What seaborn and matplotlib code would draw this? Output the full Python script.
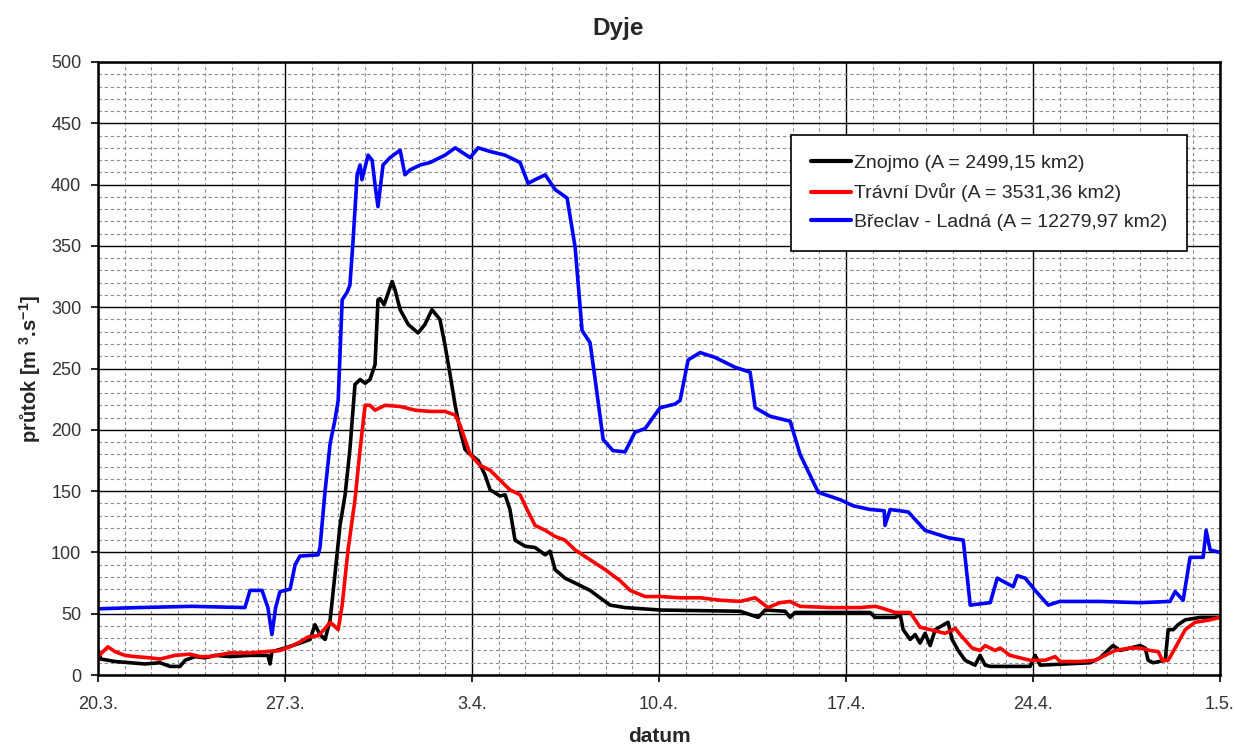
import numpy as np
import pandas as pd
import matplotlib
matplotlib.use("Agg")
import matplotlib.pyplot as plt
from matplotlib.ticker import MultipleLocator
import seaborn as sns

# ---- data (days since 20.3., discharge m3/s) ----
breclav_day = [0, 1.5, 3.5, 5.5, 5.69, 6.14, 6.36, 6.51, 6.65, 6.81, 7.19, 7.38, 7.56, 8.24, 8.31, 8.50,
               8.69, 8.87, 8.99, 9.14, 9.32, 9.43, 9.55, 9.70, 9.81, 9.88, 10.11, 10.26, 10.37, 10.48,
               10.67, 10.93, 11.31, 11.49, 11.68, 12.06, 12.43, 12.99, 13.37, 13.93, 14.23, 14.68,
               15.24, 15.80, 16.10, 16.36, 16.74, 17.11, 17.56, 17.86, 18.12, 18.42, 18.61, 18.91,
               19.28, 19.73, 20.10, 20.48, 21.04, 21.60, 21.79, 22.09, 22.54, 23.10, 23.85, 24.41,
               24.60, 25.16, 25.91, 26.28, 26.96, 27.78, 28.27, 28.90, 29.43, 29.46, 29.65, 30.33,
               30.96, 31.82, 32.39, 32.65, 33.40, 33.66, 34.26, 34.41, 34.71, 35.08, 35.57, 36.0,
               37.5, 39.0, 40.13, 40.32, 40.62, 40.88, 41.37, 41.48, 41.63, 42.0]
breclav_q = [54, 55, 56, 55, 69, 69, 55, 33, 55, 68, 70, 90, 97, 98, 104, 150,
             189, 208, 224, 306, 312, 318, 355, 408, 416, 404, 424, 420, 400, 382,
             416, 422, 428, 408, 412, 416, 418, 424, 430, 422, 430, 427,
             424, 418, 401, 404, 408, 396, 389, 349, 281, 271, 241, 192,
             183, 182, 198, 201, 218, 221, 224, 257, 263, 259, 251, 247,
             218, 211, 207, 180, 149, 143, 138, 135, 134, 122, 135, 133,
             118, 112, 110, 57, 59, 79, 72, 81, 79, 69, 57, 60,
             60, 59, 60, 68, 61, 96, 96, 118, 102, 100]

znojmo_day = [0, 0.11, 0.64, 1.20, 1.76, 2.32, 2.70, 3.07, 3.26, 3.63, 4.01, 4.38, 4.94, 5.69, 6.36,
              6.44, 6.51, 7.00, 7.56, 7.94, 8.12, 8.31, 8.50, 8.69, 8.87, 9.06, 9.25, 9.43, 9.62,
              9.81, 10.00, 10.18, 10.37, 10.48, 10.56, 10.71, 10.82, 11.01, 11.12, 11.31, 11.61,
              11.98, 12.24, 12.50, 12.80, 12.99, 13.18, 13.37, 13.55, 13.74, 13.93, 14.23, 14.49,
              14.68, 15.05, 15.24, 15.42, 15.61, 15.99, 16.36, 16.74, 16.92, 17.11, 17.48, 17.86,
              18.42, 18.79, 19.17, 19.73, 21.04, 24.04, 24.71, 24.97, 25.72, 25.91, 26.09, 28.90,
              29.09, 29.84, 30.03, 30.14, 30.40, 30.59, 30.77, 30.96, 31.15, 31.34, 31.82, 31.97,
              32.20, 32.46, 32.83, 33.02, 33.21, 33.40, 34.89, 35.08, 35.27, 37.14, 37.51, 37.89,
              38.00, 38.26, 38.64, 39.01, 39.20, 39.31, 39.50, 39.95, 40.06, 40.25, 40.43, 40.70,
              41.26, 42.0]
znojmo_q = [20, 13, 11, 10, 9, 10, 7, 7, 12, 15, 14, 16, 15, 16, 16,
            9, 19, 22, 26, 29, 41, 33, 29, 45, 82, 122, 147, 184, 237,
            241, 238, 241, 253, 306, 307, 302, 309, 321, 314, 298, 286,
            279, 286, 298, 290, 269, 245, 220, 200, 184, 180, 175, 163,
            151, 146, 147, 135, 110, 105, 104, 98, 101, 86, 79, 75,
            69, 63, 57, 55, 53, 52, 47, 53, 52, 47, 51, 51,
            47, 47, 49, 37, 29, 33, 26, 34, 24, 37, 43, 29,
            20, 12, 8, 16, 8, 7, 7, 16, 8, 10, 14, 22,
            24, 20, 22, 24, 22, 12, 10, 12, 37, 37, 41, 45,
            47, 47]

travni_day = [0, 0.37, 0.64, 1.01, 1.39, 1.95, 2.32, 2.88, 3.44, 3.82, 4.19, 4.94, 5.69, 6.25, 6.81,
              7.19, 7.56, 7.86, 8.24, 8.50, 8.69, 8.80, 8.99, 9.14, 9.36, 9.62, 9.81, 10.00, 10.18,
              10.37, 10.75, 11.31, 11.87, 12.43, 12.99, 13.37, 13.55, 13.74, 13.93, 14.30, 14.68,
              15.05, 15.42, 15.80, 16.06, 16.36, 16.74, 17.11, 17.48, 17.86, 18.42, 18.98, 19.54,
              19.92, 20.48, 21.04, 21.79, 22.54, 23.29, 24.04, 24.60, 25.08, 25.53, 25.91, 26.28,
              27.41, 28.53, 29.09, 29.28, 29.84, 30.40, 30.59, 30.77, 31.15, 31.71, 32.09, 32.27,
              32.72, 33.02, 33.21, 33.58, 33.77, 34.14, 34.89, 35.45, 35.83, 36.02, 36.77, 37.33,
              37.70, 38.08, 38.64, 39.01, 39.38, 39.69, 39.84, 40.06, 40.32, 40.70, 41.07, 41.63, 42.0]
travni_q = [15, 23, 19, 16, 15, 14, 13, 16, 17, 15, 15, 18, 18, 19, 20,
            23, 27, 31, 32, 38, 43, 41, 37, 57, 102, 143, 184, 220, 220,
            216, 220, 219, 216, 215, 215, 212, 204, 192, 180, 171, 167,
            159, 151, 147, 135, 122, 118, 113, 110, 102, 94, 86, 77,
            69, 64, 64, 63, 63, 61, 60, 63, 55, 59, 60, 56,
            55, 55, 56, 55, 51, 51, 45, 39, 37, 34, 38, 33,
            22, 20, 24, 20, 22, 16, 12, 12, 15, 11, 11, 12,
            16, 20, 22, 22, 20, 19, 12, 12, 22, 37, 43, 45, 47]

labels = ["Znojmo (A = 2499,15 km2)",
          "Trávní Dvůr (A = 3531,36 km2)",
          "Břeclav - Ladná (A = 12279,97 km2)"]
colors = ["#000000", "#ff0000", "#0000ff"]
xtick_days = [0, 7, 14, 21, 28, 35, 42]
xtick_labels = ["20.3.", "27.3.", "3.4.", "10.4.", "17.4.", "24.4.", "1.5."]

df = pd.concat([
    pd.DataFrame({"day": znojmo_day, "q": znojmo_q, "station": labels[0]}),
    pd.DataFrame({"day": travni_day, "q": travni_q, "station": labels[1]}),
    pd.DataFrame({"day": breclav_day, "q": breclav_q, "station": labels[2]}),
], ignore_index=True)

sns.set_style("white")
plt.rcParams["font.family"] = ["Liberation Sans", "DejaVu Sans"]
plt.rcParams["mathtext.fontset"] = "custom"
plt.rcParams["mathtext.rm"] = "Liberation Sans"
plt.rcParams["mathtext.bf"] = "Liberation Sans:bold"

fig = plt.figure(figsize=(12.36, 7.47), dpi=100)
ax = fig.add_axes([98 / 1236, 1 - 675 / 747, (1220 - 98) / 1236, (675 - 62) / 747])

sns.lineplot(data=df, x="day", y="q", hue="station", palette=dict(zip(labels, colors)),
             hue_order=labels, estimator=None, sort=False, linewidth=2.6, ax=ax)

ax.set_xlim(0, 42)
ax.set_ylim(0, 500)
ax.xaxis.set_major_locator(MultipleLocator(7))
ax.xaxis.set_minor_locator(MultipleLocator(1))
ax.yaxis.set_major_locator(MultipleLocator(50))
ax.yaxis.set_minor_locator(MultipleLocator(10))
ax.set_xticks(xtick_days)
ax.set_xticklabels(xtick_labels)

ax.grid(which="minor", color="#8c8c8c", linestyle=(0, (3, 2.5)), linewidth=0.8)
ax.grid(which="major", color="#000000", linestyle="-", linewidth=1.0)
ax.set_axisbelow(True)

ax.tick_params(axis="both", which="major", direction="out", length=5, width=1.2,
               labelsize=13, color="black", labelcolor="#333333", bottom=True, left=True)
ax.tick_params(axis="x", which="major", pad=10)
ax.tick_params(axis="y", which="major", pad=7)
ax.tick_params(axis="both", which="minor", length=0)
for s in ax.spines.values():
    s.set_color("black")
    s.set_linewidth(1.8)

fig.text(0.5, 1 - 28 / 747, "Dyje", ha="center", va="center", fontsize=17.5, fontweight="bold")
fig.text((98 + 1220) / 2 / 1236, 1 - 736 / 747, "datum", ha="center", va="center",
         fontsize=15, fontweight="bold")
ax.set_ylabel(r"průtok [m $^{\mathbf{3}}$.s$^{\mathbf{-1}}$]", fontsize=14.5, fontweight="bold", labelpad=6)
ax.set_xlabel("")

leg = ax.legend(loc="upper right", bbox_to_anchor=((1187 - 98) / 1122, (675 - 135) / 613),
                fontsize=14, frameon=True, fancybox=False, framealpha=1, edgecolor="black",
                handlelength=2.1, handletextpad=0.15, labelspacing=0.58, borderpad=1.0,
                borderaxespad=0)
leg.get_frame().set_linewidth(1.2)
leg.set_title(None)
for line in leg.get_lines():
    line.set_linewidth(3.0)

fig.savefig("out.png", dpi=100, facecolor="white")
